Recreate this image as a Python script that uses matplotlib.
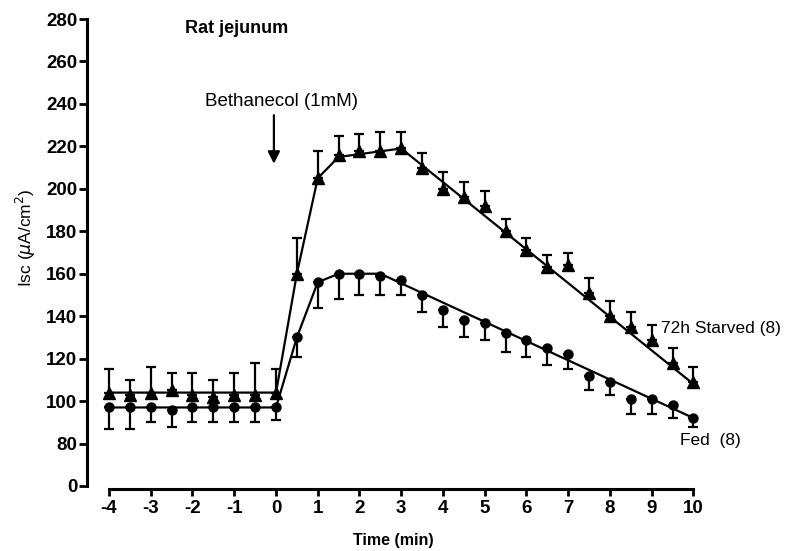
import numpy as np
import matplotlib
matplotlib.use("Agg")
import matplotlib.pyplot as plt

plt.rcParams['font.family'] = ['Liberation Sans', 'DejaVu Sans']

# time points (min)
t = np.arange(-4, 10.01, 0.5)

starved = [104, 103, 104, 105, 103, 102, 103, 103, 104,
           160, 205, 216, 218, 218, 219, 210, 200, 196, 192,
           180, 171, 163, 164, 151, 140, 135, 129, 118, 109]
starved_err = [11, 7, 12, 8, 10, 8, 10, 15, 11,
               17, 13, 9, 8, 9, 8, 7, 8, 7, 7,
               6, 6, 6, 6, 7, 7, 7, 7, 7, 7]

fed = [97, 97, 97, 96, 97, 97, 97, 97, 97,
       130, 156, 160, 160, 159, 157, 150, 143, 138, 137,
       132, 129, 125, 122, 112, 109, 101, 101, 98, 92]
fed_err = [10, 10, 7, 8, 7, 7, 7, 7, 6,
           9, 12, 12, 10, 9, 7, 8, 8, 8, 8,
           9, 8, 8, 7, 7, 6, 7, 7, 6, 4]

# hand drawn fit lines
starved_fit_t = [-4, 0, 0.5, 1, 1.5, 3, 10]
starved_fit = [104, 104, 160, 205, 215, 219, 108]
fed_fit_t = [-4, 0, 0.5, 1, 1.5, 2.5, 10]
fed_fit = [97, 97, 130, 156, 160, 160, 92]

yticks = [0, 80, 100, 120, 140, 160, 180, 200, 220, 240, 260, 280]
xticks = list(range(-4, 11))


# broken y axis: 0..80 squeezed into one tick step
def fwd(y):
    y = np.asarray(y, dtype=float)
    return np.where(y < 80, y / 4.0, y - 60.0)


def inv(v):
    v = np.asarray(v, dtype=float)
    return np.where(v < 20, v * 4.0, v + 60.0)


fig = plt.figure(figsize=(7.85, 5.51), dpi=100)
ax = fig.add_axes([87 / 785, 1 - 486 / 551, 613 / 785, 467 / 551])
ax.set_yscale('function', functions=(fwd, inv))
ax.set_ylim(0, 280)
ax.set_xlim(-4.527, 10.156)

# fit lines
ax.plot(starved_fit_t, starved_fit, color='black', lw=1.6, zorder=2)
ax.plot(fed_fit_t, fed_fit, color='black', lw=1.6, zorder=2)

# one-sided error bars
ax.errorbar(t, starved, yerr=[np.zeros(len(t)), starved_err], fmt='^',
            color='black', ms=8, elinewidth=1.6, capsize=3.5, capthick=1.6,
            zorder=3)
ax.errorbar(t, fed, yerr=[fed_err, np.zeros(len(t))], fmt='o',
            color='black', ms=6.5, elinewidth=1.6, capsize=3.5, capthick=1.6,
            zorder=3)

for s in ['top', 'right']:
    ax.spines[s].set_visible(False)
ax.spines['left'].set_linewidth(2.2)
ax.spines['bottom'].set_linewidth(2.2)
ax.spines['bottom'].set_bounds(-4, 10)
ax.spines['bottom'].set_position(('outward', 2))

ax.set_yticks(yticks)
ax.set_yticklabels([str(v) for v in yticks])
ax.set_xticks(xticks)
ax.set_xticklabels([str(v) for v in xticks])
ax.minorticks_off()
ax.tick_params(axis='y', direction='out', length=6, width=2, pad=1,
               labelsize=13.5)
ax.tick_params(axis='x', direction='out', length=5, width=2, pad=3,
               labelsize=13.5)
for lab in ax.get_xticklabels() + ax.get_yticklabels():
    lab.set_fontweight('bold')

ax.set_xlabel('Time (min)', fontsize=11.5, fontweight='bold')
ax.xaxis.set_label_coords(0.5, -0.100)
ax.set_ylabel(r'Isc ($\mu$A/cm$^2$)', fontsize=12.5)
ax.yaxis.set_label_coords(-0.08, 0.531)

ax.text(-2.18, 275.5, 'Rat jejunum', fontsize=13, fontweight='bold',
        ha='left', va='center')
ax.text(0.12, 241, 'Bethanecol (1mM)', fontsize=13.5, ha='center',
        va='center')
ax.annotate('', xy=(-0.05, 210.5), xytext=(-0.05, 236),
            arrowprops=dict(arrowstyle='-|>', color='black', lw=1.6,
                            mutation_scale=18))
ax.text(9.22, 134.4, '72h Starved (8)', fontsize=12.5, ha='left',
        va='center', clip_on=False)
ax.text(9.68, 81.6, 'Fed  (8)', fontsize=12.5, ha='left', va='center',
        clip_on=False)

fig.savefig('out.png', dpi=100)
